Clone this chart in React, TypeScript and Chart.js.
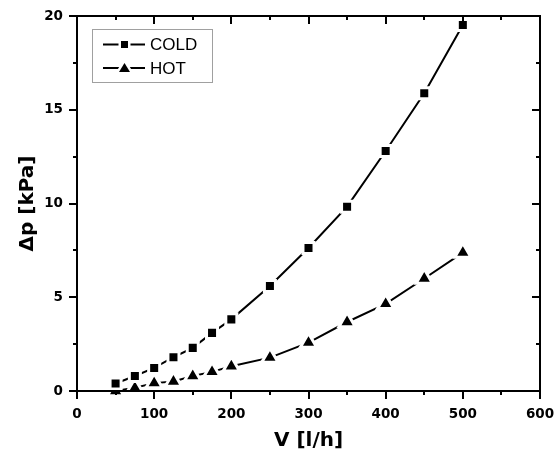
import React, { useEffect, useRef } from "react";
import { Chart, registerables } from "chart.js";

Chart.register(...registerables);

const flowRates = [50, 75, 100, 125, 150, 175, 200, 250, 300, 350, 400, 450, 500];
const coldValues = [0.4, 0.8, 1.23, 1.8, 2.3, 3.1, 3.82, 5.6, 7.63, 9.83, 12.8, 15.88, 19.52];
const hotValues = [0.0, 0.17, 0.42, 0.51, 0.8, 1.02, 1.32, 1.78, 2.58, 3.68, 4.65, 6.0, 7.38];
const seriesLabels = ["COLD", "HOT"];
const seriesMarkers = ["rect", "triangle"];

const TICK_FONT = { family: '"DejaVu Sans", sans-serif', size: 13.5, weight: "bold" as const };
const TITLE_FONT = { family: '"DejaVu Sans", sans-serif', size: 20, weight: "bold" as const };

const frameTicksPlugin = {
  id: "frameTicks",
  afterDraw(chart: any) {
    const { ctx, chartArea } = chart;
    const { left, right, top, bottom } = chartArea;
    const xs = chart.scales.x;
    const ys = chart.scales.y;
    ctx.save();
    ctx.strokeStyle = "#000";
    ctx.lineWidth = 2;
    ctx.lineCap = "butt";
    ctx.beginPath();
    xs.ticks.forEach((t: any) => {
      const v = t.value;
      const px = Math.round(xs.getPixelForValue(v));
      const len = v % 100 === 0 ? 8 : 4;
      ctx.moveTo(px, bottom);
      ctx.lineTo(px, bottom + len);
      if (v > 0 && v < 600) {
        ctx.moveTo(px, top);
        ctx.lineTo(px, top + len);
      }
    });
    ys.ticks.forEach((t: any) => {
      const v = t.value;
      const py = Math.round(ys.getPixelForValue(v));
      const len = v % 5 === 0 ? 8 : 4;
      ctx.moveTo(left, py);
      ctx.lineTo(left - len, py);
      if (v > 0 && v < 20) {
        ctx.moveTo(right, py);
        ctx.lineTo(right - len, py);
      }
    });
    ctx.stroke();
    ctx.lineJoin = "miter";
    ctx.strokeRect(left, top, right - left, bottom - top);
    ctx.restore();
  },
};

function drawMarker(ctx: CanvasRenderingContext2D, style: string, x: number, y: number) {
  ctx.beginPath();
  if (style === "rect") {
    ctx.rect(x - 3.5, y - 3.5, 7, 7);
  } else {
    ctx.moveTo(x, y - 5);
    ctx.lineTo(x + 5.5, y + 4);
    ctx.lineTo(x - 5.5, y + 4);
    ctx.closePath();
  }
  ctx.lineWidth = 5;
  ctx.lineJoin = "round";
  ctx.strokeStyle = "#fff";
  ctx.fillStyle = "#000";
  ctx.stroke();
  ctx.fill();
}

const legendPlugin = {
  id: "boxLegend",
  afterDraw(chart: any) {
    const { ctx, chartArea } = chart;
    const bx = chartArea.left + 15.5;
    const by = chartArea.top + 13.5;
    ctx.save();
    ctx.fillStyle = "#fff";
    ctx.fillRect(bx, by, 120, 53);
    ctx.strokeStyle = "#a0a0a0";
    ctx.lineWidth = 1;
    ctx.strokeRect(bx, by, 120, 53);
    chart.data.datasets.forEach((ds: any, i: number) => {
      const y = by + 15 + i * 23.5;
      ctx.beginPath();
      ctx.strokeStyle = "#000";
      ctx.lineWidth = 1.8;
      ctx.moveTo(bx + 10.5, y);
      ctx.lineTo(bx + 52.5, y);
      ctx.stroke();
      drawMarker(ctx, seriesMarkers[i], bx + 32, y);
      ctx.fillStyle = "#000";
      ctx.font = '17px "Liberation Sans", Arial, sans-serif';
      ctx.textBaseline = "middle";
      ctx.textAlign = "left";
      ctx.fillText(ds.label, bx + 57.5, y + 1);
    });
    ctx.restore();
  },
};

export default function App() {
  const canvasRef = useRef<HTMLCanvasElement | null>(null);

  useEffect(() => {
    document.body.style.margin = "0";
    const canvas = canvasRef.current;
    if (!canvas) return;
    Chart.defaults.color = "#000";
    const chart = new Chart(canvas, {
      type: "line",
      data: {
        labels: flowRates,
        datasets: [
          {
            label: seriesLabels[0],
            data: flowRates.map((x, i) => ({ x, y: coldValues[i] })),
            borderColor: "#000",
            backgroundColor: "#000",
            borderWidth: 2,
            pointStyle: "rect",
            pointRadius: 7.8,
            pointBorderColor: "#fff",
            pointBorderWidth: 3,
            pointBackgroundColor: "#000",
            tension: 0,
            clip: false,
          },
          {
            label: seriesLabels[1],
            data: flowRates.map((x, i) => ({ x, y: hotValues[i] })),
            borderColor: "#000",
            backgroundColor: "#000",
            borderWidth: 2,
            pointStyle: "triangle",
            pointRadius: 9.4,
            pointBorderColor: "#fff",
            pointBorderWidth: 3,
            pointBackgroundColor: "#000",
            tension: 0,
            clip: false,
          },
        ],
      },
      options: {
        responsive: false,
        animation: false,
        devicePixelRatio: 1,
        layout: { padding: { top: 16, right: 15, left: 0, bottom: 0 } },
        plugins: {
          legend: { display: false },
          tooltip: { enabled: false },
        },
        scales: {
          x: {
            type: "linear",
            min: 0,
            max: 600,
            border: { display: false },
            grid: { display: false, drawTicks: false },
            ticks: {
              stepSize: 50,
              autoSkip: false,
              maxRotation: 0,
              padding: 15,
              font: TICK_FONT,
              color: "#000",
              callback: (v: any) => (Number(v) % 100 === 0 ? String(v) : ""),
            },
            title: {
              display: true,
              text: "V [l/h]",
              font: TITLE_FONT,
              color: "#000",
              padding: { top: 6, bottom: 0 },
            },
            afterFit: (s: any) => {
              s.height = 62;
              s.paddingLeft = 0;
              s.paddingRight = 0;
            },
          },
          y: {
            type: "linear",
            min: 0,
            max: 20,
            border: { display: false },
            grid: { display: false, drawTicks: false },
            ticks: {
              stepSize: 2.5,
              autoSkip: false,
              padding: 14,
              font: TICK_FONT,
              color: "#000",
              callback: (v: any) => (Number(v) % 5 === 0 ? String(v) : ""),
            },
            title: {
              display: true,
              text: "Δp [kPa]",
              font: TITLE_FONT,
              color: "#000",
              padding: { top: 16, bottom: 0 },
            },
            afterFit: (s: any) => {
              s.width = 77;
              s.paddingTop = 0;
              s.paddingBottom = 0;
            },
          },
        },
      },
      plugins: [frameTicksPlugin, legendPlugin],
    });
    return () => chart.destroy();
  }, []);

  return (
    <div style={{ width: 555, height: 453, background: "#fff" }}>
      <canvas ref={canvasRef} width={555} height={453} style={{ display: "block" }} />
    </div>
  );
}
